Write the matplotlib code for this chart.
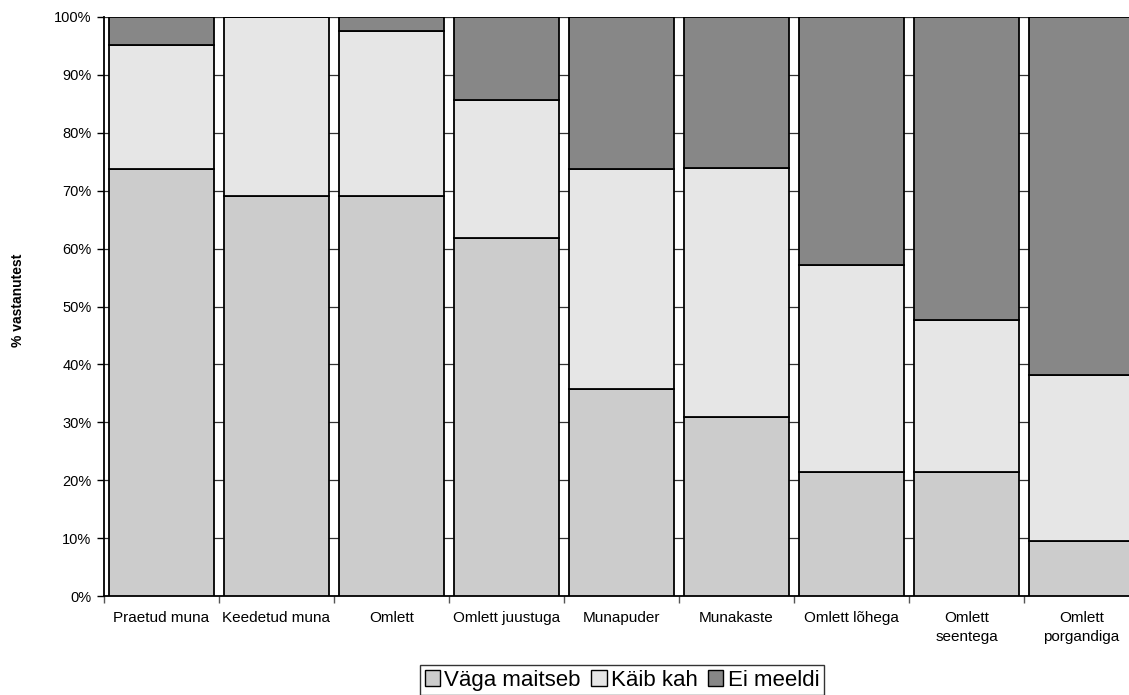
import matplotlib
matplotlib.use("Agg")
import matplotlib.pyplot as plt
from matplotlib.ticker import FixedLocator, NullFormatter, PercentFormatter
from matplotlib.patches import Patch
import numpy as np

categories = ["Praetud muna", "Keedetud muna", "Omlett", "Omlett juustuga",
              "Munapuder", "Munakaste", "Omlett lõhega", "Omlett\nseentega",
              "Omlett\nporgandiga"]
vaga_maitseb = [73.8, 69.0, 69.0, 61.9, 35.7, 31.0, 21.4, 21.4, 9.5]
kaib_kah = [21.4, 31.0, 28.6, 23.8, 38.1, 42.9, 35.7, 26.2, 28.6]
ei_meeldi = [4.8, 0.0, 2.4, 14.3, 26.2, 26.1, 42.9, 52.4, 61.9]
series_names = ["Väga maitseb", "Käib kah", "Ei meeldi"]
colors = ["#cccccc", "#e6e6e6", "#878787"]
yticks = list(range(0, 101, 10))

plt.rcParams['font.family'] = ['Liberation Sans', 'DejaVu Sans']

fig = plt.figure(figsize=(11.29, 6.95), dpi=100)
ax = fig.add_axes([104/1129, 99/695, 1035/1129, 579/695])

x = np.arange(len(categories))
bottom = np.zeros(len(categories))
for vals, col in zip([vaga_maitseb, kaib_kah, ei_meeldi], colors):
    vals = np.array(vals)
    ax.bar(x, vals, bottom=bottom, width=0.905, color=col, edgecolor="black",
           linewidth=1.3, zorder=3)
    bottom += vals

ax.set_xlim(-0.5, len(categories) - 0.5)
ax.set_ylim(0, 100)
ax.set_yticks(yticks)
ax.yaxis.set_major_formatter(PercentFormatter(decimals=0))
for yv in yticks[1:]:
    ax.axhline(yv, color="#333333", linewidth=0.9, zorder=1)

ax.xaxis.set_major_locator(FixedLocator(np.arange(len(categories) + 1) - 0.5))
ax.xaxis.set_major_formatter(NullFormatter())
ax.xaxis.set_minor_locator(FixedLocator(x))
ax.set_xticklabels(categories, minor=True)
for lbl in ax.get_xticklabels(minor=True):
    lbl.set_linespacing(1.45)
ax.tick_params(axis="x", which="minor", length=0, pad=11, labelsize=11)
ax.tick_params(axis="x", which="major", length=5, width=1, color="#555555", direction="out")
ax.tick_params(axis="y", length=5, width=1, labelsize=10.5, pad=4)

for s in ["top", "right"]:
    ax.spines[s].set_visible(False)
ax.spines["left"].set_linewidth(1.3)
ax.spines["bottom"].set_linewidth(1.3)

ax.set_ylabel("% vastanutest", fontsize=10, fontweight="bold")
ax.yaxis.set_label_coords((25 - 104) / 1035, (596 - 300) / 579)

handles = [Patch(facecolor=c, edgecolor="black", linewidth=1.0) for c in colors]
leg = fig.legend(handles, series_names, loc="lower center",
                 bbox_to_anchor=(622/1129, 0.0), ncol=3, fontsize=16,
                 frameon=True, fancybox=False, edgecolor="black",
                 borderpad=0.2, handlelength=0.7, handleheight=0.7,
                 handletextpad=0.2, columnspacing=0.45, borderaxespad=0.0)
leg.get_frame().set_linewidth(1.0)

fig.savefig("out.png", dpi=100)
